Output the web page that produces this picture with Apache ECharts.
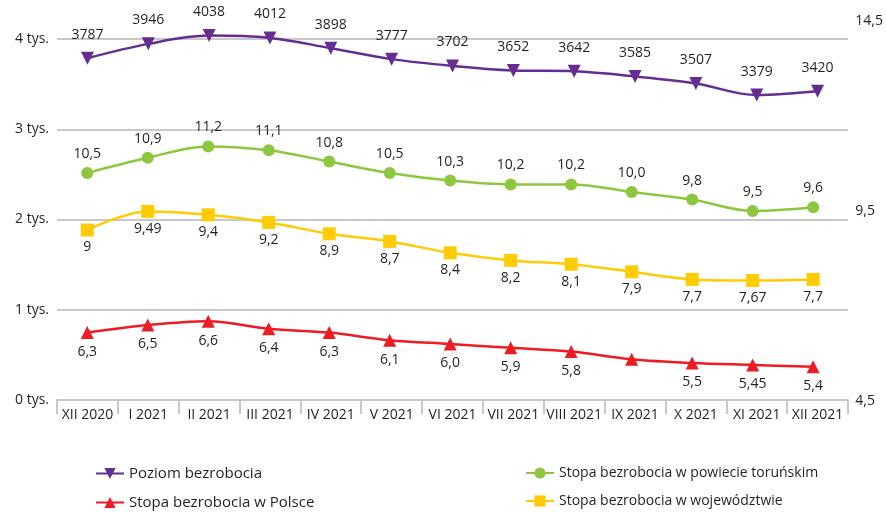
<!DOCTYPE html>
<html>
<head>
<meta charset="utf-8">
<script src="https://cdn.jsdelivr.net/npm/echarts@6/dist/echarts.min.js"></script>
<style>
  html, body { margin: 0; padding: 0; background: #fff; }
  #chart { width: 886px; height: 514px; }
</style>
</head>
<body>
<div id="chart"></div>
<script>
  // miesiące
  var months = ['XII 2020', 'I 2021', 'II 2021', 'III 2021', 'IV 2021', 'V 2021', 'VI 2021',
    'VII 2021', 'VIII 2021', 'IX 2021', 'X 2021', 'XI 2021', 'XII 2021'];
  // liczba bezrobotnych (os lewa)
  var poziomBezrobocia = [3787, 3946, 4038, 4012, 3898, 3777, 3702, 3652, 3642, 3585, 3507, 3379, 3420];
  // stopy bezrobocia w % (os prawa)
  var stopaPowiat = [10.5, 10.9, 11.2, 11.1, 10.8, 10.5, 10.3, 10.2, 10.2, 10.0, 9.8, 9.5, 9.6];
  var stopaWojewodztwo = [9, 9.49, 9.4, 9.2, 8.9, 8.7, 8.4, 8.2, 8.1, 7.9, 7.7, 7.67, 7.7];
  var stopaPolska = [6.3, 6.5, 6.6, 6.4, 6.3, 6.1, 6.0, 5.9, 5.8, 5.6, 5.5, 5.45, 5.4];
  var leftTicks = [0, 1000, 2000, 3000, 4000];
  var rightTicks = [4.5, 9.5, 14.5];

  var font = 'Open Sans';
  var txt = '#231f20';

  function fmtRate(v) {
    var s = (Math.round(v * 10) === v * 10) ? v.toFixed(1) : String(v);
    return s.replace('.', ',');
  }
  function fmtPlain(v) {
    return String(v).replace('.', ',');
  }

  var chart = echarts.init(document.getElementById('chart'));

  function lineSeries(name, data, color, symbol, opts) {
    var s = {
      name: name,
      type: 'line',
      smooth: 0.35,
      clip: false,
      data: data,
      symbol: symbol,
      symbolSize: opts.size || 12,
      symbolRotate: opts.rotate || 0,
      lineStyle: {color: color, width: 2.5},
      itemStyle: {color: color},
      xAxisIndex: opts.axis,
      yAxisIndex: opts.axis,
      z: opts.z || 2,
      label: {
        show: true,
        position: opts.pos,
        distance: opts.dist,
        color: txt,
        fontFamily: font,
        fontSize: 14,
        formatter: function (p) { return opts.fmt(p.value); }
      }
    };
    return s;
  }

  var redData = stopaPolska.map(function (v, i) {
    // etykieta IX 2021 nie jest pokazana na oryginale
    if (i === 9) return {value: v, label: {show: false}};
    return v;
  });

  var legendBase = {
    orient: 'vertical',
    top: 461,
    bottom: 0,
    height: 60,
    itemWidth: 28,
    itemHeight: 14,
    itemGap: 14
  };

  var option = {
    animation: false,
    backgroundColor: '#fff',
    textStyle: {fontFamily: font},
    grid: [
      {left: 57, right: 38, top: 39, bottom: 114},
      {left: 57, right: 38, top: 21, bottom: 113}
    ],
    xAxis: [
      {
        type: 'category',
        gridIndex: 0,
        data: months,
        boundaryGap: true,
        axisLine: {show: true, lineStyle: {color: '#c8c8cc', width: 2}},
        axisTick: {show: true, length: 14, lineStyle: {color: '#c8c8cc', width: 2}},
        axisLabel: {color: txt, fontFamily: font, fontSize: 14, margin: 8, interval: 0}
      },
      {
        type: 'category',
        gridIndex: 1,
        data: months,
        boundaryGap: true,
        show: false
      }
    ],
    yAxis: [
      {
        type: 'value',
        gridIndex: 0,
        min: leftTicks[0],
        max: leftTicks[leftTicks.length - 1],
        interval: 1000,
        axisLine: {show: false},
        axisTick: {show: false},
        splitLine: {lineStyle: {color: '#c8c8cc', width: 2}},
        axisLabel: {
          color: txt, fontFamily: font, fontSize: 14, margin: 8,
          formatter: function (v) { return (v / 1000) + ' tys.'; }
        }
      },
      {
        type: 'value',
        gridIndex: 1,
        position: 'right',
        min: rightTicks[0],
        max: rightTicks[rightTicks.length - 1],
        interval: 5,
        axisLine: {show: false},
        axisTick: {show: false},
        splitLine: {show: false},
        axisLabel: {
          color: txt, fontFamily: font, fontSize: 14, margin: 12,
          formatter: function (v) { return v.toFixed(1).replace('.', ','); }
        }
      }
    ],
    legend: [
      Object.assign({}, legendBase, {
        left: 90,
        textStyle: {color: txt, fontFamily: font, fontSize: 15},
        data: ['Poziom bezrobocia', 'Stopa bezrobocia w Polsce']
      }),
      Object.assign({}, legendBase, {
        left: 520,
        textStyle: {color: txt, fontFamily: font, fontSize: 14},
        data: ['Stopa bezrobocia w powiecie toruńskim', 'Stopa bezrobocia w województwie']
      })
    ],
    series: [
      lineSeries('Poziom bezrobocia', poziomBezrobocia, '#662d91', 'triangle',
        {axis: 0, rotate: 180, pos: 'top', dist: 10, fmt: fmtPlain, size: 13, z: 3}),
      lineSeries('Stopa bezrobocia w Polsce', redData, '#ed1c24', 'triangle',
        {axis: 1, pos: 'bottom', dist: 6, fmt: fmtRate, size: 13}),
      lineSeries('Stopa bezrobocia w powiecie toruńskim', stopaPowiat, '#8dc63f', 'circle',
        {axis: 1, pos: 'top', dist: 6, fmt: fmtRate, size: 12}),
      lineSeries('Stopa bezrobocia w województwie', stopaWojewodztwo, '#ffcb05', 'rect',
        {axis: 1, pos: 'bottom', dist: 4, fmt: fmtPlain, size: 13})
    ]
  };

  chart.setOption(option);
</script>
</body>
</html>
